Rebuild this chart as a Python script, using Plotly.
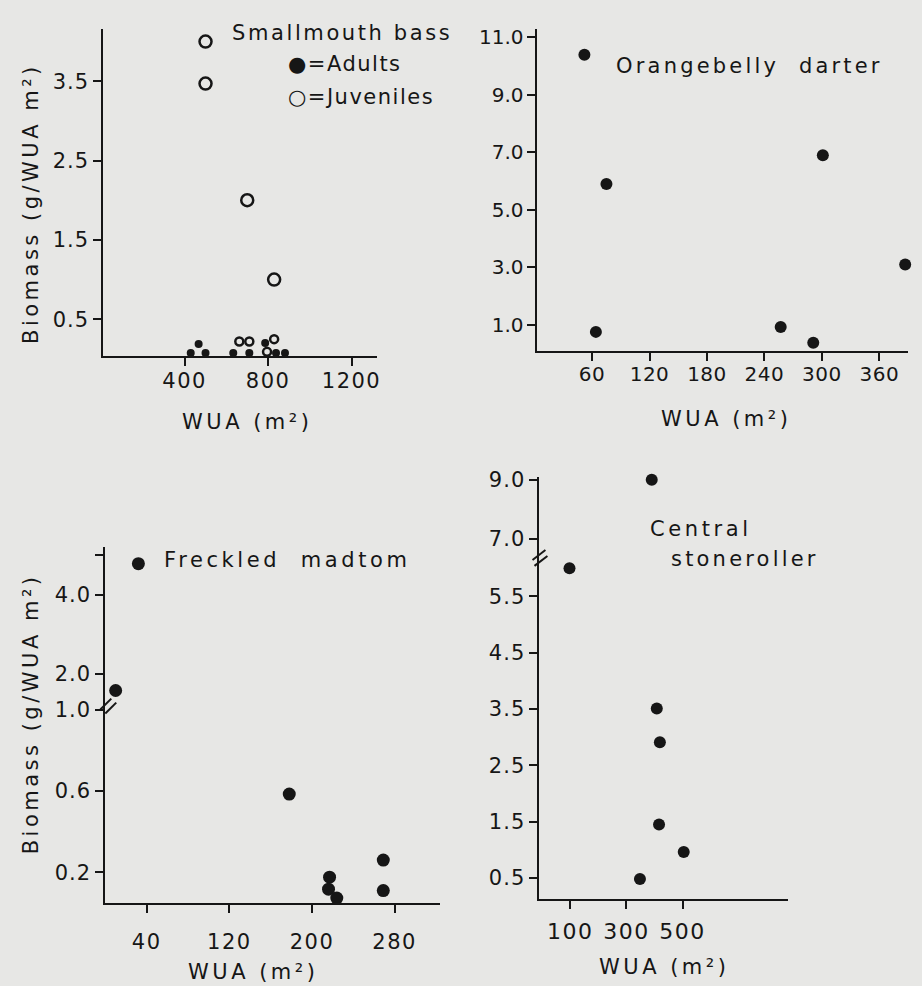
import plotly.graph_objects as go

# ---------------- data ----------------
bass_adult_wua = [429, 467, 500, 633, 710, 786, 838, 881]
bass_adult_bio = [0.075, 0.19, 0.075, 0.075, 0.075, 0.20, 0.075, 0.075]
bass_juv_wua = [500, 500, 700, 829, 662, 710, 795, 829]
bass_juv_bio = [4.0, 3.47, 2.0, 1.0, 0.22, 0.22, 0.09, 0.25]

darter_wua = [52, 75, 64, 257, 291, 301, 387]
darter_bio = [10.4, 5.9, 0.76, 0.93, 0.38, 6.9, 3.1]

madtom_wua = [32, 10, 178, 217, 216, 224, 269, 269]
madtom_bio = [4.78, 1.58, 0.585, 0.176, 0.117, 0.073, 0.26, 0.11]

stone_wua = [97, 390, 408, 419, 416, 504, 348]
stone_bio = [6.0, 9.0, 3.51, 2.91, 1.45, 0.96, 0.48]

bass_x_ticks = [400, 800, 1200]
bass_y_ticks = [0.5, 1.5, 2.5, 3.5]
darter_x_ticks = [60, 120, 180, 240, 300, 360]
darter_y_ticks = [1.0, 3.0, 5.0, 7.0, 9.0, 11.0]
madtom_x_ticks = [40, 120, 200, 280]
madtom_y_low_ticks = [0.2, 0.6, 1.0]
madtom_y_up_ticks = [2.0, 4.0, 5.0]
madtom_y_up_labels = ["2.0", "4.0", ""]
stone_x_ticks = [100, 300, 500]
stone_y_low_ticks = [0.5, 1.5, 2.5, 3.5, 4.5, 5.5]
stone_y_up_ticks = [7.0, 9.0]

MADTOM_BREAK = 1.0
STONE_BREAK = 6.3

# ---------------- styling ----------------
W, H = 922, 986
INK = "#161616"
BG = "#e7e7e5"
FONT = "DejaVu Sans"


def xdom(a, b):
    return [a / W, b / W]


def ydom(top, bottom):
    return [1 - bottom / H, 1 - top / H]


def px(x):
    return x / W


def py(y):
    return 1 - y / H


def sp(text, ls=2.0):
    return f'<span style="letter-spacing:{ls}px">{text}</span>'


def lab(vals, fmt="{:.1f}", ls=1.0):
    return [sp(fmt.format(v), ls) for v in vals]


def ax(size=21, **kw):
    d = dict(showline=True, linecolor=INK, linewidth=2, showgrid=False,
             zeroline=False, ticks="outside", ticklen=8, tickwidth=2,
             tickcolor=INK, tickfont=dict(family=FONT, size=size, color=INK),
             fixedrange=True)
    d.update(kw)
    return d


fig = go.Figure()


def dots(x, y, xa, ya, size=12, open_=False):
    fig.add_trace(go.Scatter(
        x=x, y=y, xaxis=xa, yaxis=ya, mode="markers", cliponaxis=False,
        showlegend=False, hoverinfo="skip",
        marker=dict(size=size, symbol="circle", opacity=1,
                    color=BG if open_ else INK,
                    line=dict(color=INK, width=2.5 if open_ else 0))))


# Panel 1: smallmouth bass
dots(bass_adult_wua, bass_adult_bio, "x", "y", size=8)
dots(bass_juv_wua, bass_juv_bio, "x", "y",
     size=[12 if v > 0.5 else 8 for v in bass_juv_bio], open_=True)

# Panel 2: orangebelly darter
dots(darter_wua, darter_bio, "x2", "y2", size=12)

# Panel 3: freckled madtom (broken axis)
lo = [(a, b) for a, b in zip(madtom_wua, madtom_bio) if b <= MADTOM_BREAK]
up = [(a, b) for a, b in zip(madtom_wua, madtom_bio) if b > MADTOM_BREAK]
dots([a for a, _ in lo], [b for _, b in lo], "x3", "y3", size=13)
dots([a for a, _ in up], [b for _, b in up], "x3", "y4", size=13)

# Panel 4: central stoneroller (broken axis)
lo = [(a, b) for a, b in zip(stone_wua, stone_bio) if b <= STONE_BREAK]
up = [(a, b) for a, b in zip(stone_wua, stone_bio) if b > STONE_BREAK]
dots([a for a, _ in lo], [b for _, b in lo], "x4", "y5", size=12)
dots([a for a, _ in up], [b for _, b in up], "x4", "y6", size=12)

fig.update_layout(
    width=W, height=H, margin=dict(l=0, r=0, t=0, b=0),
    paper_bgcolor=BG, plot_bgcolor="rgba(0,0,0,0)",
    font=dict(family=FONT, color=INK),
    xaxis=ax(domain=xdom(103, 378), range=[10, 1320], anchor="y",
             tickvals=bass_x_ticks, ticktext=lab(bass_x_ticks, "{:d}", 1.5),
             ticklabelstandoff=-3),
    yaxis=ax(domain=ydom(20, 350), range=[0.04, 4.16], anchor="x",
             tickvals=bass_y_ticks, ticktext=lab(bass_y_ticks)),
    xaxis2=ax(size=20, domain=xdom(540, 913), range=[3, 390], anchor="y2",
              tickvals=darter_x_ticks,
              ticktext=lab(darter_x_ticks, "{:d}", 0.5), ticklabelstandoff=-4),
    yaxis2=ax(size=20, domain=ydom(20, 345), range=[0.1, 11.3], anchor="x2",
              tickvals=darter_y_ticks, ticktext=lab(darter_y_ticks, ls=0)),
    xaxis3=ax(domain=xdom(105, 442), range=[0, 324], anchor="y3",
              tickvals=madtom_x_ticks,
              ticktext=lab(madtom_x_ticks, "{:d}", 1.5), ticklabelstandoff=11),
    yaxis3=ax(domain=ydom(701, 902), range=[0.05, 1.03], anchor="x3",
              tickvals=madtom_y_low_ticks, ticktext=lab(madtom_y_low_ticks)),
    yaxis4=ax(domain=ydom(543, 701), range=[1.25, 5.2], anchor="x3",
              tickvals=madtom_y_up_ticks,
              ticktext=[sp(t, 1) for t in madtom_y_up_labels]),
    xaxis4=ax(size=22, domain=xdom(542, 792), range=[-10, 875], anchor="y5",
              tickvals=stone_x_ticks,
              ticktext=lab(stone_x_ticks, "{:d}", 1.5), ticklabelstandoff=4),
    yaxis5=ax(domain=ydom(553, 898), range=[0.13, 6.2], anchor="x4",
              tickvals=stone_y_low_ticks, ticktext=lab(stone_y_low_ticks)),
    yaxis6=ax(domain=ydom(472, 553), range=[6.4, 9.1], anchor="x4",
              tickvals=stone_y_up_ticks, ticktext=lab(stone_y_up_ticks)),
)

# axis-break marks
for (x0, y0, x1, y1) in [(100, 707, 111, 696), (105, 711, 116, 700),
                         (535, 556, 548, 546), (537, 562, 550, 552)]:
    fig.add_shape(type="line", xref="paper", yref="paper",
                  x0=px(x0), y0=py(y0), x1=px(x1), y1=py(y1),
                  line=dict(color=INK, width=2))


def note(text, x, y, size=21, xanchor="left", angle=0, ls=2.0):
    fig.add_annotation(text=sp(text, ls), x=px(x), y=py(y), xref="paper",
                       yref="paper", showarrow=False, xanchor=xanchor,
                       yanchor="middle", textangle=angle,
                       font=dict(family=FONT, size=size, color=INK))


note("Smallmouth bass", 231, 24, ls=2.6)
note("\u25cf=Adults", 287, 56, ls=1.5)
note("\u25cb=Juveniles", 287, 89, ls=1.5)
note("Orangebelly  darter", 617, 58, ls=3.2)
note("Freckled  madtom", 162, 556, ls=3.6)
note("Central", 651, 525, ls=3.6)
note("stoneroller", 672, 555, ls=3.2)

note("WUA (m\u00b2)", 248, 417, xanchor="center", ls=3.5)
note("WUA (m\u00b2)", 730, 414, xanchor="center", ls=3.5)
note("WUA (m\u00b2)", 254, 972, xanchor="center", ls=3.5)
note("WUA (m\u00b2)", 667, 967, xanchor="center", ls=3.5)

note("Biomass (g/WUA m\u00b2)", 30, 196, xanchor="center", angle=-90, ls=3.5)
note("Biomass (g/WUA m\u00b2)", 30, 711, xanchor="center", angle=-90, ls=3.5)

fig.write_html("out.html")
